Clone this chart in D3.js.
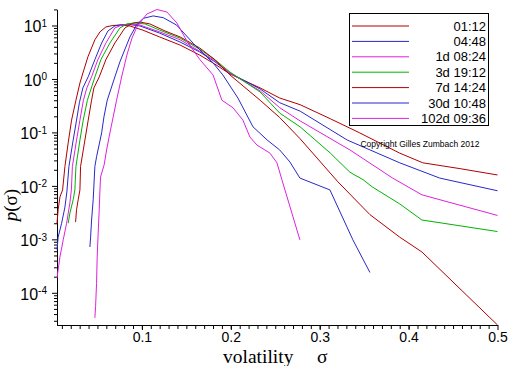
<!DOCTYPE html>
<html>
<head>
<meta charset="utf-8">
<style>
body { margin: 0; background: #fff; }
</style>
</head>
<body>
<script src="https://d3js.org/d3.v7.min.js"></script>
<script>

const width = 512;
const height = 366;

const seriesNames = ['01:12', '04:48', '1d 08:24', '3d 19:12', '7d 14:24', '30d 10:48', '102d 09:36'];
const seriesColors = ['#b00000', '#2828c8', '#e020e0', '#00b400', '#b00000', '#2828c8', '#e020e0'];

// [sigma, p(sigma)]
const h0112 = [[0.0045,2.0e-3],[0.0058,3.6e-3],[0.0078,6.2e-3],[0.0108,8.4e-3],[0.0134,0.023],[0.0171,0.064],[0.0209,0.17],[0.0258,0.40],[0.0303,0.84],[0.034,1.35],[0.0393,2.6],[0.0471,5.4],[0.0528,7.6],[0.0595,9.4],[0.0674,10.0],[0.0753,10.2],[0.0865,9.8],[0.101,8.2],[0.120,6.1],[0.143,4.3],[0.165,2.8],[0.182,1.9],[0.199,1.24],[0.233,0.68],[0.255,0.44],[0.278,0.33],[0.312,0.18],[0.345,0.098],[0.390,0.041],[0.416,0.027],[0.458,0.021],[0.5,0.016]];
const h0448 = [[0.0045,6.4e-4],[0.0058,1.1e-3],[0.0097,2.0e-3],[0.0134,4.0e-3],[0.0156,7.7e-3],[0.0179,0.023],[0.0227,0.072],[0.0265,0.17],[0.0297,0.36],[0.0336,0.68],[0.0396,1.1],[0.0471,2.3],[0.0547,4.7],[0.0618,7.9],[0.0696,9.8],[0.0775,10.4],[0.0865,10.4],[0.0978,9.8],[0.120,7.2],[0.143,4.9],[0.165,3.2],[0.182,2.1],[0.199,1.29],[0.233,0.65],[0.255,0.36],[0.278,0.25],[0.331,0.072],[0.390,0.027],[0.435,0.014],[0.5,0.0081]];
const h1d = [[0.0045,1.9e-4],[0.0078,4.7e-4],[0.0115,9.8e-4],[0.0153,2.0e-3],[0.019,4.8e-3],[0.0207,8.4e-3],[0.0218,0.023],[0.0265,0.072],[0.0303,0.17],[0.0342,0.40],[0.0381,0.68],[0.0434,1.1],[0.0505,2.3],[0.0595,4.7],[0.0696,9.0],[0.0775,10.2],[0.0865,10.7],[0.0978,10.2],[0.120,7.6],[0.143,5.4],[0.165,3.3],[0.182,2.2],[0.199,1.29],[0.233,0.60],[0.255,0.29],[0.278,0.164],[0.334,0.047],[0.382,0.014],[0.415,0.0068],[0.5,0.0028]];
const h3d = [[0.0171,2.0e-3],[0.019,3.1e-3],[0.0227,5.5e-3],[0.0246,8.4e-3],[0.0258,0.023],[0.0303,0.072],[0.034,0.17],[0.0387,0.40],[0.0471,1.09],[0.0539,2.3],[0.064,4.7],[0.0753,9.0],[0.0831,10.7],[0.0921,11.1],[0.1034,10.7],[0.120,8.2],[0.143,5.8],[0.165,3.6],[0.182,2.3],[0.199,1.35],[0.233,0.57],[0.255,0.23],[0.278,0.127],[0.312,0.041],[0.334,0.018],[0.349,0.013],[0.359,0.0096],[0.390,0.0046],[0.415,0.0023],[0.5,0.0014]];
const h7d = [[0.0254,2.1e-3],[0.0265,3.6e-3],[0.0283,5.5e-3],[0.0303,8.4e-3],[0.031,0.023],[0.0359,0.072],[0.0396,0.17],[0.0434,0.40],[0.046,0.68],[0.052,1.09],[0.0595,2.3],[0.0696,4.7],[0.0809,9.0],[0.0899,11.1],[0.0978,11.6],[0.109,10.7],[0.126,7.9],[0.143,6.1],[0.165,3.8],[0.182,2.3],[0.199,1.19],[0.233,0.40],[0.255,0.19],[0.278,0.076],[0.3205,0.0119],[0.3565,0.0029],[0.390,0.0011],[0.415,5.8e-4],[0.5,2.5e-5]];
const h30d = [[0.0415,7.2e-4],[0.0423,1.1e-3],[0.0434,2.3e-3],[0.0452,5.5e-3],[0.0471,0.023],[0.049,0.035],[0.0547,0.098],[0.0573,0.195],[0.061,0.40],[0.0696,1.09],[0.0753,2.1],[0.0865,6.1],[0.094,10.2],[0.1015,13.6],[0.1127,15.1],[0.124,14.0],[0.139,10.2],[0.158,4.6],[0.171,2.8],[0.180,2.0],[0.191,1.19],[0.208,0.44],[0.225,0.127],[0.241,0.072],[0.255,0.047],[0.2665,0.028],[0.2777,0.014],[0.3115,0.0084],[0.3373,9.8e-4],[0.3565,2.4e-4]];
const h102d = [[0.0471,3.4e-5],[0.0479,5.5e-5],[0.049,1.5e-4],[0.0497,4.7e-4],[0.0508,1.3e-3],[0.052,3.6e-3],[0.0528,8.4e-3],[0.0535,0.0147],[0.0576,0.025],[0.0603,0.047],[0.064,0.098],[0.0677,0.195],[0.0715,0.40],[0.0772,1.09],[0.0831,2.8],[0.0888,5.8],[0.0944,9.4],[0.1056,16.4],[0.1169,19.9],[0.1281,17.9],[0.1394,11.1],[0.1506,5.1],[0.1652,2.3],[0.180,1.19],[0.190,0.40],[0.2024,0.29],[0.2136,0.17],[0.2215,0.082],[0.2294,0.058],[0.244,0.041],[0.2519,0.027],[0.2575,0.013],[0.2777,9.8e-4]];

const allSeries = [h0112, h0448, h1d, h3d, h7d, h30d, h102d];

const xTicks = [0.1, 0.2, 0.3, 0.4, 0.5];
const yExponents = [1, 0, -1, -2, -3, -4];

const svg = d3.select('body')
              .append('svg')
              .attr('width', width)
              .attr('height', height);

const x = d3.scaleLinear().domain([0.0045, 0.5]).range([57, 497.5]);
const y = d3.scaleLog().domain([2.5e-5, 20]).range([325, 9.4]);

// minor ticks
const xMinor = d3.range(1, 50).map(i => i / 100).filter(v => v >= 0.0045);
svg.append('g')
   .attr('transform', 'translate(0,325)')
   .call(d3.axisBottom(x).tickValues(xMinor).tickSize(4).tickSizeOuter(0).tickFormat(''));

const yMinor = [];
for (let k = -5; k <= 1; k++) {
  for (let m = 2; m <= 9; m++) {
    const v = m * Math.pow(10, k);
    if (v >= 2.5e-5 && v <= 20) yMinor.push(v);
  }
}
svg.append('g')
   .attr('transform', 'translate(57,0)')
   .call(d3.axisLeft(y).tickValues(yMinor).tickSize(3).tickSizeOuter(0).tickFormat(''));

// major ticks
const xAxis = svg.append('g')
   .attr('transform', 'translate(0,325)')
   .call(d3.axisBottom(x).tickValues(xTicks).tickSize(5).tickSizeOuter(0).tickPadding(2).tickFormat(d3.format('.1f')));

xAxis.selectAll('text')
     .attr('font-family', '"Liberation Sans", Arial, sans-serif')
     .attr('font-size', '14px')
     .attr('fill', '#000');

const yAxis = svg.append('g')
   .attr('transform', 'translate(57,0)')
   .call(d3.axisLeft(y).tickValues(yExponents.map(e => Math.pow(10, e))).tickSize(5).tickSizeOuter(0).tickPadding(5).tickFormat(''));

yAxis.selectAll('.tick text')
     .attr('font-family', '"Liberation Sans", Arial, sans-serif')
     .attr('font-size', '16px')
     .attr('fill', '#000')
     .attr('dy', '0.4em')
     .text('10')
     .append('tspan')
     .attr('dy', '-0.55em')
     .attr('font-size', '10px')
     .text(d => String(Math.round(Math.log10(d))));

svg.selectAll('.domain').attr('stroke', '#000');
svg.selectAll('.tick line').attr('stroke', '#000');

// curves
const line = d3.line()
               .x(d => x(d[0]))
               .y(d => y(d[1]));

svg.selectAll('path.curve')
   .data(allSeries)
   .enter()
   .append('path')
   .attr('class', 'curve')
   .attr('fill', 'none')
   .attr('stroke', (d, i) => seriesColors[i])
   .attr('stroke-width', 1)
   .attr('d', line);

// legend
const legend = svg.append('g');
legend.append('rect')
      .attr('x', 349.5).attr('y', 13.5)
      .attr('width', 139).attr('height', 112)
      .attr('fill', '#fff')
      .attr('stroke', '#000');

const rows = legend.selectAll('g.row')
      .data(seriesNames)
      .enter()
      .append('g')
      .attr('transform', (d, i) => `translate(0,${26 + i * 15.4})`);

rows.append('line')
    .attr('x1', 352).attr('x2', 409)
    .attr('stroke', (d, i) => seriesColors[i]);

rows.append('text')
    .attr('x', 486)
    .attr('dy', '0.36em')
    .attr('text-anchor', 'end')
    .attr('font-family', '"Liberation Sans", Arial, sans-serif')
    .attr('font-size', '13px')
    .text(d => d);

svg.append('text')
   .attr('x', 420).attr('y', 147)
   .attr('text-anchor', 'middle')
   .attr('font-family', '"Liberation Sans", Arial, sans-serif')
   .attr('font-size', '8.5px')
   .text('Copyright Gilles Zumbach 2012');

// axis titles
svg.append('text')
   .attr('x', 223).attr('y', 363)
   .attr('font-family', '"Liberation Serif", "Times New Roman", serif')
   .attr('font-size', '19.5px')
   .text('volatility');

svg.append('text')
   .attr('x', 317).attr('y', 363)
   .attr('font-family', '"Liberation Serif", "Times New Roman", serif')
   .attr('font-size', '19.5px')
   .text('σ');

svg.append('text')
   .attr('transform', 'translate(17,205) rotate(-90)')
   .attr('text-anchor', 'middle')
   .attr('font-family', '"Liberation Serif", "Times New Roman", serif')
   .attr('font-size', '19px')
   .html('<tspan font-style="italic">p</tspan>(σ)');

</script>
</body>
</html>
